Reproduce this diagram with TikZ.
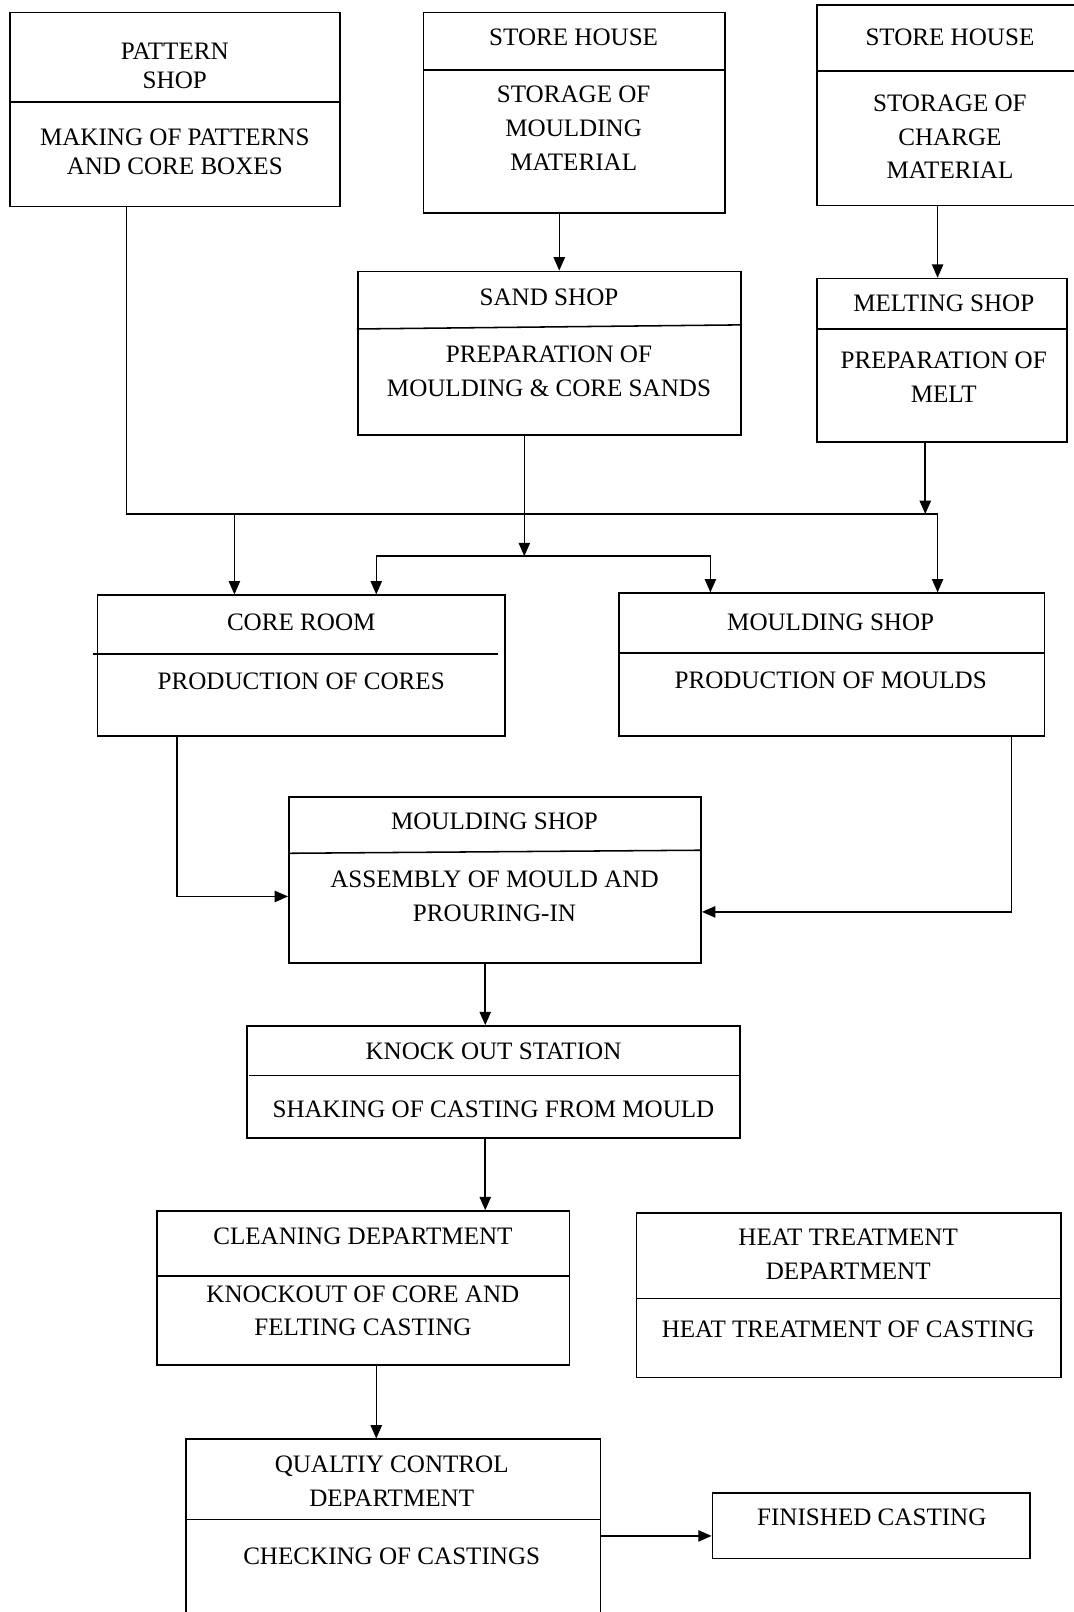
\documentclass[tikz,border=0pt]{standalone}
\usepackage{fontspec}
\setmainfont{Liberation Serif}
\usetikzlibrary{arrows.meta,fit}
\begin{document}
\begin{tikzpicture}[x=0.5pt,y=-0.5pt,
  box/.style={draw, line width=0.8pt, inner sep=0pt, rectangle},
  txt/.style={font=\fontsize{12.2}{16.5}\selectfont, align=center, inner sep=0pt},
  ln/.style={line width=0.75pt},
  arr/.style={line width=0.75pt, -{Triangle[length=6.5pt,width=5.5pt]}}]
\useasboundingbox (0,0) rectangle (1044,1568);
\fill[white] (0,0) rectangle (1044,1568);
% boxes
\node[box, fit={(10,12) (331,201)}] (ps) {};
\node[box, fit={(412,12) (705,207)}] (st1) {};
\node[box, fit={(795,5) (1060,200)}] (st2) {};
\node[box, fit={(348,264) (721,423)}] (sand) {};
\node[box, fit={(795,271) (1038,430)}] (melt) {};
\node[box, fit={(95,579) (491,716)}] (core) {};
\node[box, fit={(602,577) (1016,716)}] (mould) {};
\node[box, fit={(281,775) (682,937)}] (asm) {};
\node[box, fit={(240,998) (720,1107)}] (ko) {};
\node[box, fit={(153,1178) (554,1328)}] (clean) {};
\node[box, fit={(619,1180) (1032,1340)}] (heat) {};
\node[box, fit={(181,1400) (584,1590)}] (qc) {};
\node[box, fit={(693,1452) (1002,1516)}] (fin) {};
% dividers
\draw[ln] (ps.west |- 0,99) -- (ps.east |- 0,99);
\draw[ln] (st1.west |- 0,68) -- (st1.east |- 0,68);
\draw[ln] (st2.west |- 0,69) -- (st2.east |- 0,69);
\draw[ln] (sand.west |- 0,320) -- (sand.east |- 0,316);
\draw[ln] (melt.west |- 0,320) -- (melt.east |- 0,320);
\draw[ln] (90,636) -- (484,636);
\draw[ln] (mould.west |- 0,635) -- (mould.east |- 0,635);
\draw[ln] (asm.west |- 0,830) -- (asm.east |- 0,827);
\draw[ln] (242,1046) -- (ko.east |- 0,1046);
\draw[ln] (clean.west |- 0,1241) -- (clean.east |- 0,1241);
\draw[ln] (heat.west |- 0,1263) -- (heat.east |- 0,1263);
\draw[ln] (qc.west |- 0,1478) -- (qc.east |- 0,1478);
% texts
\node[txt, font=\fontsize{12.2}{14}\selectfont] (ps-t) at (170,64) {PATTERN\\SHOP};
\node[txt, font=\fontsize{12.2}{14}\selectfont] (ps-b) at (170,148) {MAKING OF PATTERNS\\AND CORE BOXES};
\node[txt] (st1-t) at (558,36) {STORE HOUSE};
\node[txt] (st1-b) at (558,125) {STORAGE OF\\MOULDING\\MATERIAL};
\node[txt] (st2-t) at (924,36) {STORE HOUSE};
\node[txt] (st2-b) at (924,133) {STORAGE OF\\CHARGE\\MATERIAL};
\node[txt] (sand-t) at (534,289) {SAND SHOP};
\node[txt] (sand-b) at (534,361) {PREPARATION OF\\MOULDING \& CORE SANDS};
\node[txt] (melt-t) at (918,295) {MELTING SHOP};
\node[txt] (melt-b) at (918,367) {PREPARATION OF\\MELT};
\node[txt] (core-t) at (293,605) {CORE ROOM};
\node[txt] (core-b) at (293,663) {PRODUCTION OF CORES};
\node[txt] (mould-t) at (808,605) {MOULDING SHOP};
\node[txt] (mould-b) at (808,662) {PRODUCTION OF MOULDS};
\node[txt] (asm-t) at (481,799) {MOULDING SHOP};
\node[txt] (asm-b) at (481,872) {ASSEMBLY OF MOULD AND\\PROURING-IN};
\node[txt] (ko-t) at (480,1023) {KNOCK OUT STATION};
\node[txt] (ko-b) at (480,1079) {SHAKING OF CASTING FROM MOULD};
\node[txt] (clean-t) at (353,1203) {CLEANING DEPARTMENT};
\node[txt] (clean-b) at (353,1275) {KNOCKOUT OF CORE AND\\FELTING CASTING};
\node[txt] (heat-t) at (825,1220) {HEAT TREATMENT\\DEPARTMENT};
\node[txt] (heat-b) at (825,1293) {HEAT TREATMENT OF CASTING};
\node[txt] (qc-t) at (381,1441) {QUALTIY CONTROL\\DEPARTMENT};
\node[txt] (qc-b) at (381,1514) {CHECKING OF CASTINGS};
\node[txt] (fin-t) at (848,1476) {FINISHED CASTING};
% junction coordinates
\coordinate (jR) at (912,500);
\coordinate (jL) at (228,500);
\coordinate (jM) at (900,500);
\coordinate (jS) at (510,541);
% connectors
\draw[arr] (st1.south -| 544,0) -- (sand.north -| 544,0);
\draw[arr] (st2.south -| 912,0) -- (melt.north -| 912,0);
\draw[arr] (melt.south -| jM) -- (jM);
\draw[arr] (ps.south -| 123,0) |- (jR) -- (mould.north -| jR);
\draw[arr] (jL) -- (core.north -| jL);
\draw[arr] (sand.south -| jS) -- (jS);
\draw[arr] (jS) -| (core.north -| 366,0);
\draw[arr] (jS) -| (mould.north -| 691,0);
\draw[arr] (core.south -| 172,0) |- (asm.west |- 0,872);
\draw[arr] (mould.south -| 984,0) |- (asm.east |- 0,887);
\draw[arr] (asm.south -| 472,0) -- (ko.north -| 472,0);
\draw[arr] (ko.south -| 472,0) -- (clean.north -| 472,0);
\draw[arr] (clean.south -| 366,0) -- (qc.north -| 366,0);
\draw[arr] (qc.east |- 0,1494) -- (fin.west |- 0,1494);
\end{tikzpicture}
\end{document}
